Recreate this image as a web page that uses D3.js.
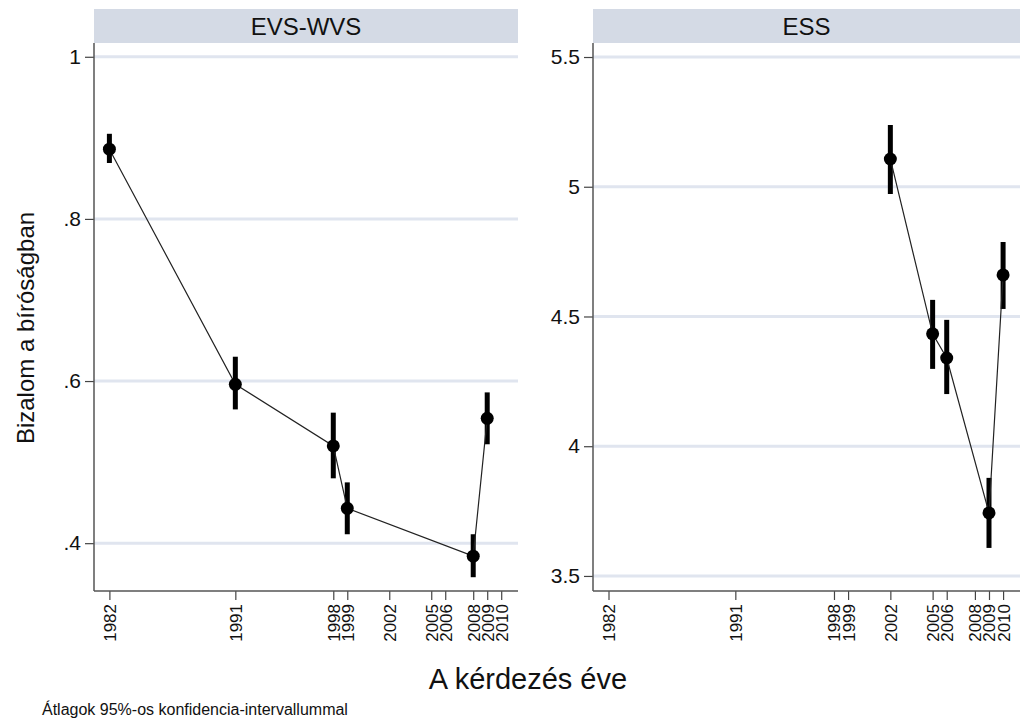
<!DOCTYPE html>
<html lang="hu">
<head>
<meta charset="UTF-8">
<title>Bizalom a bíróságban</title>
<style>
  body { margin: 0; background: #fff; overflow: hidden; }
  svg { display: block; font-family: "Liberation Sans", Arial, sans-serif; }
</style>
</head>
<body>
<svg id="chart" width="1021" height="723"></svg>
<script src="https://cdn.jsdelivr.net/npm/d3@7"></script>
<script>
// x tick years shared by both panels
const tickYears = [1982, 1991, 1998, 1999, 2002, 2005, 2006, 2008, 2009, 2010];

// EVS-WVS: means and 95% CI
const evsYears = [1982, 1991, 1998, 1999, 2008, 2009];
const evsMean  = [0.886, 0.596, 0.520, 0.443, 0.384, 0.554];
const evsLow   = [0.869, 0.565, 0.480, 0.411, 0.358, 0.522];
const evsHigh  = [0.905, 0.630, 0.561, 0.475, 0.411, 0.586];
const evsTicks = [0.4, 0.6, 0.8, 1];
const evsTickLabels = [".4", ".6", ".8", "1"];

// ESS: means and 95% CI
const essYears = [2002, 2005, 2006, 2009, 2010];
const essMean  = [5.107, 4.433, 4.340, 3.743, 4.660];
const essLow   = [4.972, 4.298, 4.201, 3.608, 4.529];
const essHigh  = [5.238, 4.564, 4.487, 3.878, 4.787];
const essTicks = [3.5, 4, 4.5, 5, 5.5];
const essTickLabels = ["3.5", "4", "4.5", "5", "5.5"];

const svg = d3.select("#chart");
const plotTop = 43, plotBottom = 591;

const panels = [
  { title: "EVS-WVS", x0: 94, x1: 518, yDom: [0.341, 1.017],
    years: evsYears, mean: evsMean, low: evsLow, high: evsHigh,
    ticks: evsTicks, labels: evsTickLabels },
  { title: "ESS", x0: 593, x1: 1020, yDom: [3.442, 5.554],
    years: essYears, mean: essMean, low: essLow, high: essHigh,
    ticks: essTicks, labels: essTickLabels }
];

panels.forEach(p => {
  const x = d3.scaleLinear().domain([1980.9, 2011.2]).range([p.x0, p.x1]);
  const y = d3.scaleLinear().domain(p.yDom).range([plotBottom, plotTop]);
  const g = svg.append("g");

  // strip header
  g.append("rect")
    .attr("x", p.x0).attr("y", 9)
    .attr("width", p.x1 - p.x0).attr("height", plotTop - 9)
    .attr("fill", "#d4dae5");
  g.append("text")
    .attr("x", (p.x0 + p.x1) / 2).attr("y", 35)
    .attr("text-anchor", "middle")
    .attr("font-size", 24)
    .attr("fill", "#111")
    .text(p.title);

  // grid
  g.selectAll(".grid")
    .data(p.ticks)
    .enter().append("line")
    .attr("x1", p.x0).attr("x2", p.x1)
    .attr("y1", d => y(d)).attr("y2", d => y(d))
    .attr("stroke", "#e0e5ef")
    .attr("stroke-width", 3);

  // y axis
  const yAxis = d3.axisLeft(y)
    .tickValues(p.ticks)
    .tickFormat((d, i) => p.labels[i])
    .tickSize(9).tickPadding(4);
  const ya = g.append("g").attr("transform", `translate(${p.x0},0)`).call(yAxis);
  ya.select(".domain").remove();
  ya.selectAll("line").attr("stroke", "#444").attr("stroke-width", 1.2);
  ya.selectAll("text").attr("font-size", 21).attr("fill", "#111")
    .attr("font-family", "Liberation Sans, Arial, sans-serif");
  g.append("line")
    .attr("x1", p.x0).attr("x2", p.x0)
    .attr("y1", plotTop).attr("y2", plotBottom)
    .attr("stroke", "#555").attr("stroke-width", 1.5);

  // x axis
  const xAxis = d3.axisBottom(x)
    .tickValues(tickYears)
    .tickFormat(d3.format("d"))
    .tickSize(9).tickPadding(4);
  const xa = g.append("g").attr("transform", `translate(0,${plotBottom})`).call(xAxis);
  xa.select(".domain").remove();
  xa.selectAll("line").attr("stroke", "#444").attr("stroke-width", 1.2);
  xa.selectAll("text")
    .attr("font-size", 17).attr("fill", "#111")
    .attr("font-family", "Liberation Sans, Arial, sans-serif")
    .attr("text-anchor", "end")
    .attr("dy", "0.35em")
    .attr("transform", "translate(0,13) rotate(-90)")
    .attr("x", 0).attr("y", 0);
  g.append("line")
    .attr("x1", p.x0).attr("x2", p.x1)
    .attr("y1", plotBottom).attr("y2", plotBottom)
    .attr("stroke", "#555").attr("stroke-width", 1.5);

  const pts = p.years.map((yr, i) => ({ yr, m: p.mean[i], lo: p.low[i], hi: p.high[i] }));

  // CI bars
  g.selectAll(".ci")
    .data(pts)
    .enter().append("line")
    .attr("x1", d => x(d.yr)).attr("x2", d => x(d.yr))
    .attr("y1", d => y(d.lo)).attr("y2", d => y(d.hi))
    .attr("stroke", "#000").attr("stroke-width", 5);

  // connecting line
  g.append("path")
    .datum(pts)
    .attr("fill", "none")
    .attr("stroke", "#222")
    .attr("stroke-width", 1.2)
    .attr("d", d3.line().x(d => x(d.yr)).y(d => y(d.m)));

  // means
  g.selectAll(".pt")
    .data(pts)
    .enter().append("circle")
    .attr("cx", d => x(d.yr)).attr("cy", d => y(d.m))
    .attr("r", 6.5)
    .attr("fill", "#000");
});

// axis titles and note
svg.append("text")
  .attr("transform", "translate(34,328) rotate(-90)")
  .attr("text-anchor", "middle")
  .attr("font-size", 24)
  .attr("fill", "#111")
  .text("Bizalom a bíróságban");

svg.append("text")
  .attr("x", 528).attr("y", 689)
  .attr("text-anchor", "middle")
  .attr("font-size", 29)
  .attr("fill", "#111")
  .text("A kérdezés éve");

svg.append("text")
  .attr("x", 42).attr("y", 715)
  .attr("font-size", 16)
  .attr("fill", "#111")
  .text("Átlagok 95%-os konfidencia-intervallummal");
</script>
</body>
</html>
